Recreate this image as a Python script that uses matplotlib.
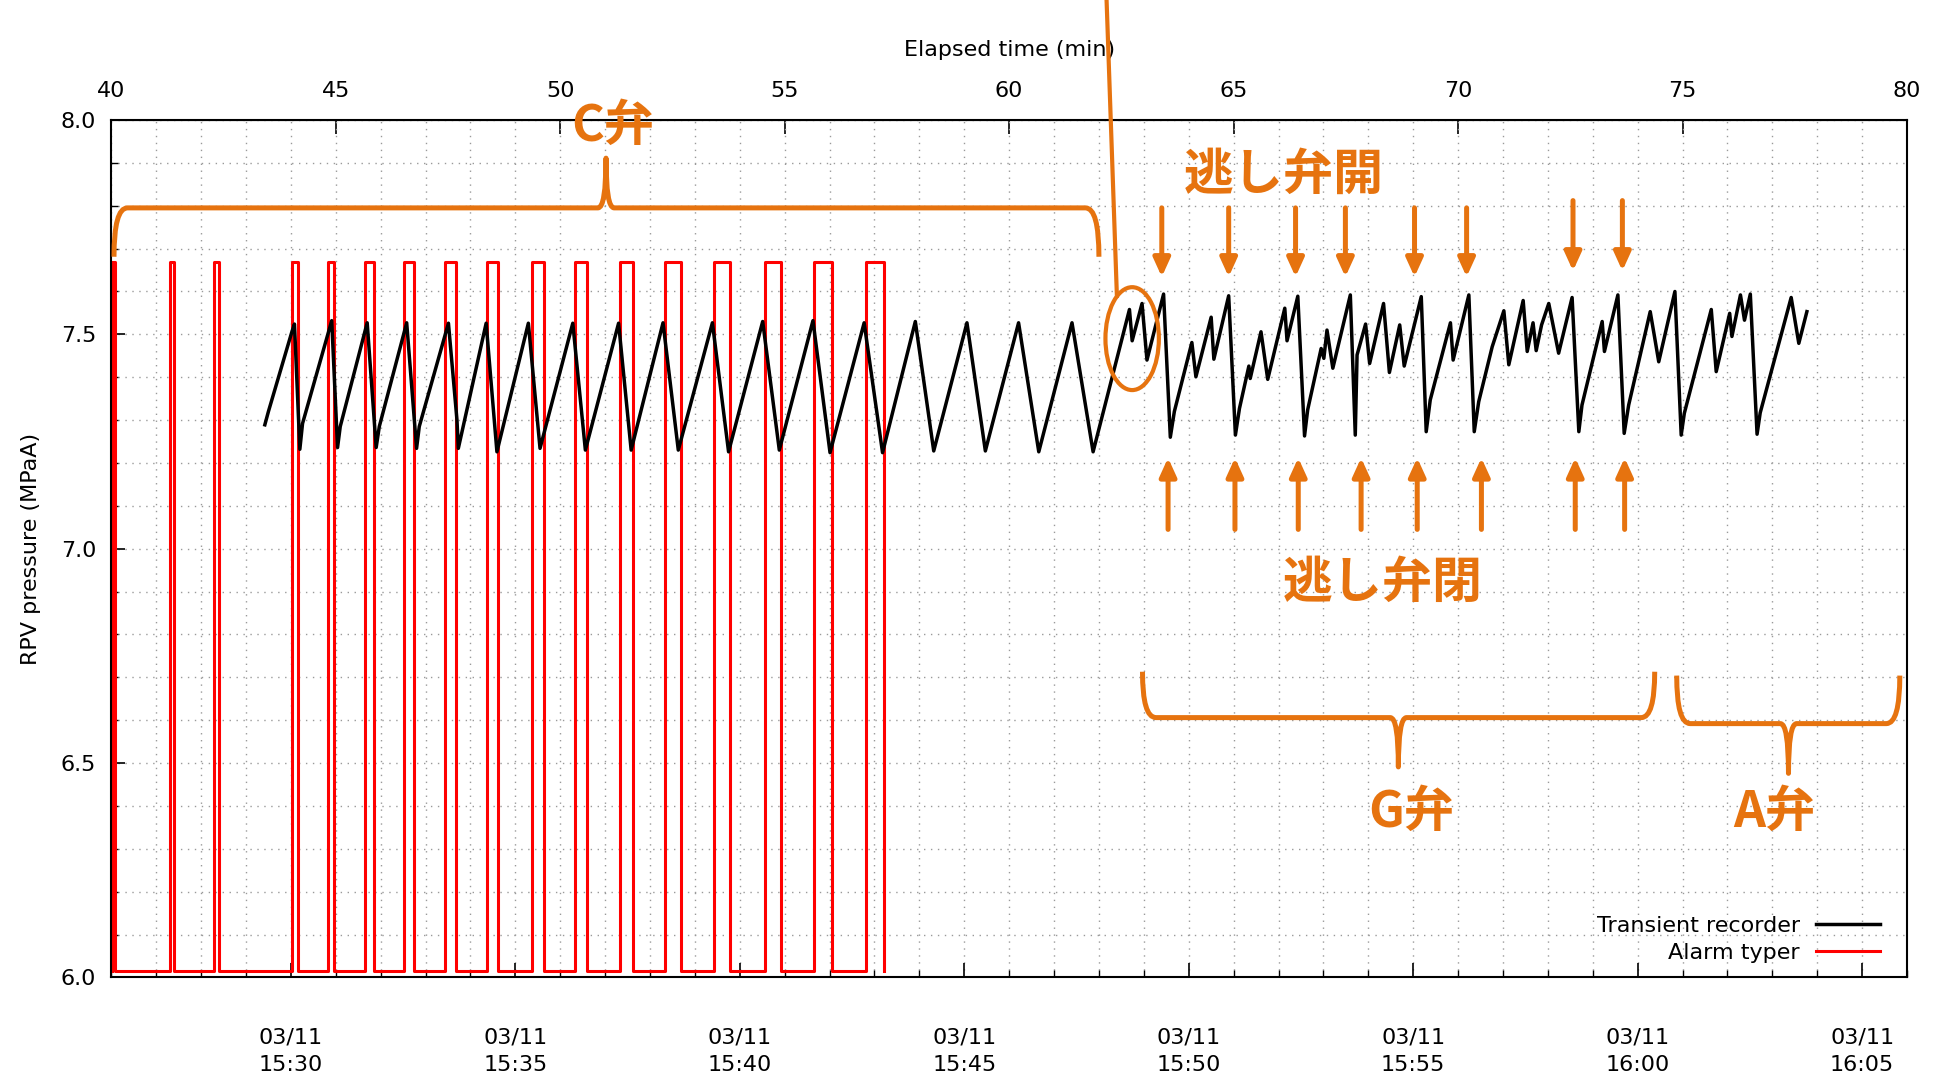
import matplotlib
matplotlib.use('Agg')
import matplotlib.pyplot as plt
from matplotlib.path import Path
from matplotlib.patches import PathPatch, Ellipse
from matplotlib.ticker import MultipleLocator

# ---------------- data ----------------
# Transient recorder (elapsed minutes, MPaA)
black_t = [43.42, 43.50, 44.02, 44.08, 44.20, 44.26, 44.91, 45.04, 45.10, 45.70,
           45.90, 45.97, 46.58, 46.80, 46.86, 47.51, 47.70, 47.73, 48.35, 48.59,
           49.29, 49.55, 50.28, 50.56, 51.30, 51.58, 52.29, 52.63, 53.39, 53.75,
           54.51, 54.88, 55.63, 56.01, 56.77, 57.18, 57.91, 58.32, 59.06, 59.47,
           60.21, 60.66, 61.40, 61.87, 62.68, 62.74, 62.96, 63.07, 63.44, 63.59,
           63.68, 64.07, 64.16, 64.50, 64.56, 64.89, 65.04, 65.13, 65.34, 65.37,
           65.61, 65.76, 66.14, 66.19, 66.43, 66.58, 66.65, 66.95, 67.01, 67.08,
           67.21, 67.60, 67.71, 67.75, 67.94, 68.03, 68.34, 68.47, 68.70, 68.80,
           69.18, 69.29, 69.38, 69.83, 69.89, 70.24, 70.36, 70.46, 70.76, 71.02,
           71.13, 71.45, 71.54, 71.67, 71.74, 71.86, 72.02, 72.24, 72.54, 72.69,
           72.76, 73.21, 73.26, 73.56, 73.70, 73.80, 74.28, 74.37, 74.47, 74.83,
           74.97, 75.04, 75.64, 75.75, 76.05, 76.10, 76.29, 76.38, 76.51, 76.66,
           76.73, 77.42, 77.59, 77.77]
black_p = [7.289, 7.320, 7.505, 7.524, 7.232, 7.292, 7.532, 7.236, 7.285, 7.527,
           7.236, 7.285, 7.527, 7.234, 7.285, 7.526, 7.300, 7.234, 7.526, 7.226,
           7.526, 7.234, 7.526, 7.230, 7.526, 7.230, 7.527, 7.230, 7.527, 7.226,
           7.530, 7.230, 7.532, 7.224, 7.527, 7.224, 7.530, 7.228, 7.527, 7.228,
           7.527, 7.226, 7.527, 7.226, 7.558, 7.485, 7.572, 7.440, 7.594, 7.260,
           7.320, 7.481, 7.401, 7.540, 7.442, 7.590, 7.265, 7.327, 7.426, 7.397,
           7.506, 7.395, 7.561, 7.485, 7.589, 7.263, 7.324, 7.467, 7.444, 7.510,
           7.421, 7.592, 7.265, 7.452, 7.524, 7.432, 7.572, 7.411, 7.522, 7.426,
           7.588, 7.273, 7.347, 7.527, 7.440, 7.592, 7.273, 7.343, 7.471, 7.555,
           7.429, 7.579, 7.460, 7.527, 7.462, 7.522, 7.572, 7.456, 7.586, 7.273,
           7.335, 7.530, 7.460, 7.592, 7.269, 7.335, 7.553, 7.498, 7.436, 7.600,
           7.265, 7.316, 7.558, 7.413, 7.549, 7.495, 7.592, 7.533, 7.594, 7.267,
           7.317, 7.586, 7.479, 7.553]

# Alarm typer: pulse rising / falling edges (elapsed minutes) and levels
pulse_on = [40.02, 41.30, 42.29, 44.02, 44.835, 45.65, 46.52, 47.435, 48.38,
            49.37, 50.33, 51.335, 52.34, 53.435, 54.565, 55.66, 56.815]
pulse_off = [40.08, 41.40, 42.39, 44.17, 44.97, 45.85, 46.75, 47.67, 48.62,
             49.63, 50.59, 51.62, 52.69, 53.785, 54.915, 56.05, 57.22]
alarm_low = 6.016
alarm_high = 7.668

# relief valve open / close arrow times
open_t = [63.40, 64.89, 66.38, 67.49, 69.03, 70.19, 72.56, 73.66]
close_t = [63.54, 65.03, 66.44, 67.84, 69.09, 70.52, 72.61, 73.71]

elapsed_ticks = [40, 45, 50, 55, 60, 65, 70, 75, 80]
clock_ticks = [44, 49, 54, 59, 64, 69, 74, 79]
clock_labels = ['03/11\n15:30', '03/11\n15:35', '03/11\n15:40', '03/11\n15:45',
                '03/11\n15:50', '03/11\n15:55', '03/11\n16:00', '03/11\n16:05']
y_ticks = [6.0, 6.5, 7.0, 7.5, 8.0]

# ---------------- figure ----------------
plt.rcParams['font.family'] = ['DejaVu Sans']
ORANGE = '#E6730F'
FS = 16

fig = plt.figure(figsize=(19.4, 10.77), dpi=100)
ax = fig.add_axes([0.05737, 0.09248, 0.92562, 0.7961])
ax.set_xlim(40, 80)
ax.set_ylim(6, 8)

# alarm typer step series
red_t = [pulse_on[0]]
red_p = [alarm_low]
for s, e in zip(pulse_on, pulse_off):
    red_t += [s, s, e, e]
    red_p += [alarm_low, alarm_high, alarm_high, alarm_low]

ax.plot(black_t, black_p, color='black', lw=2.5, label='Transient recorder', zorder=3)
ax.plot(red_t, red_p, color='#ff0000', lw=2.2, label='Alarm typer', zorder=2)

# ticks
ax.set_xticks(clock_ticks)
ax.set_xticklabels(clock_labels, fontsize=FS, linespacing=1.45)
ax.xaxis.set_minor_locator(MultipleLocator(1))
ax.set_yticks(y_ticks)
ax.set_yticklabels(['%.1f' % v for v in y_ticks], fontsize=FS)
ax.yaxis.set_minor_locator(MultipleLocator(0.1))
ax.tick_params(axis='x', which='major', direction='in', length=10, width=1.2, pad=36)
ax.tick_params(axis='x', which='minor', direction='in', length=5, width=1.0)
ax.tick_params(axis='y', which='major', direction='in', length=10, width=1.2, pad=11)
ax.tick_params(axis='y', which='minor', direction='in', length=5, width=1.0)
ax.tick_params(top=False, right=False, which='both')
for sp in ax.spines.values():
    sp.set_linewidth(1.5)

ax.grid(which='both', color='#9a9a9a', linestyle=(0, (1, 4)), lw=1.0)
ax.set_axisbelow(True)

sec = ax.secondary_xaxis('top')
sec.set_xticks(elapsed_ticks)
sec.set_xticklabels([str(v) for v in elapsed_ticks], fontsize=FS)
sec.tick_params(axis='x', direction='in', length=10, width=1.2, pad=14)
sec.set_xlabel('Elapsed time (min)', fontsize=FS, labelpad=18)

ax.set_ylabel('RPV pressure (MPaA)', fontsize=FS, labelpad=14)

ax.legend(loc='lower right', markerfirst=False, frameon=False, fontsize=FS,
          handlelength=2.9, handletextpad=0.7, labelspacing=0.3, borderpad=0,
          borderaxespad=0, bbox_to_anchor=(0.985, 0.017))

# ---------------- annotations ----------------
def brace(x0, x1, xm, ybar, yend, ytip, dx_end, dx_tip):
    verts = [(x0, yend), (x0, ybar), (x0 + dx_end, ybar),
             (xm - dx_tip, ybar),
             (xm, ybar), (xm, ytip),
             (xm, ybar), (xm + dx_tip, ybar),
             (x1 - dx_end, ybar),
             (x1, ybar), (x1, yend)]
    codes = [Path.MOVETO, Path.CURVE3, Path.CURVE3,
             Path.LINETO,
             Path.CURVE3, Path.CURVE3,
             Path.CURVE3, Path.CURVE3,
             Path.LINETO,
             Path.CURVE3, Path.CURVE3]
    patch = PathPatch(Path(verts, codes), facecolor='none', edgecolor=ORANGE,
                      lw=3.6, capstyle='butt', joinstyle='round', zorder=6, clip_on=False)
    ax.add_patch(patch)

brace(40.06, 62.00, 51.02, 7.795, 7.681, 7.911, 0.30, 0.18)
brace(62.97, 74.38, 68.67, 6.606, 6.713, 6.491, 0.30, 0.18)
brace(74.87, 79.84, 77.36, 6.592, 6.704, 6.476, 0.30, 0.18)

tfont = dict(family=['Noto Sans CJK JP', 'DejaVu Sans'], fontsize=36,
             fontweight='bold', color=ORANGE, ha='center', va='center', zorder=7)
ax.text(51.16, 7.985, 'C弁', **tfont)
ax.text(66.12, 7.870, '逃し弁開', **tfont)
ax.text(68.32, 6.918, '逃し弁閉', **tfont)
ax.text(68.96, 6.384, 'G弁', **tfont)
ax.text(77.04, 6.384, 'A弁', **tfont)

aprops = dict(arrowstyle='-|>,head_width=0.25,head_length=0.55', color=ORANGE,
              lw=3.6, shrinkA=0, shrinkB=0, mutation_scale=20)
for i, t in enumerate(open_t):
    top = 7.812 if i >= 6 else 7.795
    tip = 7.648 if i >= 6 else 7.634
    ax.annotate('', xy=(t, tip), xytext=(t, top), arrowprops=aprops, zorder=6)
for t in close_t:
    ax.annotate('', xy=(t, 7.212), xytext=(t, 7.045), arrowprops=aprops, zorder=6)

ax.add_patch(Ellipse((62.74, 7.49), 1.19, 0.24, facecolor='none', edgecolor=ORANGE,
                     lw=3.0, zorder=6))
ax.plot([62.17, 62.40], [8.28, 7.59], color=ORANGE, lw=3.0, clip_on=False, zorder=6)

fig.savefig('out.png', dpi=100)
